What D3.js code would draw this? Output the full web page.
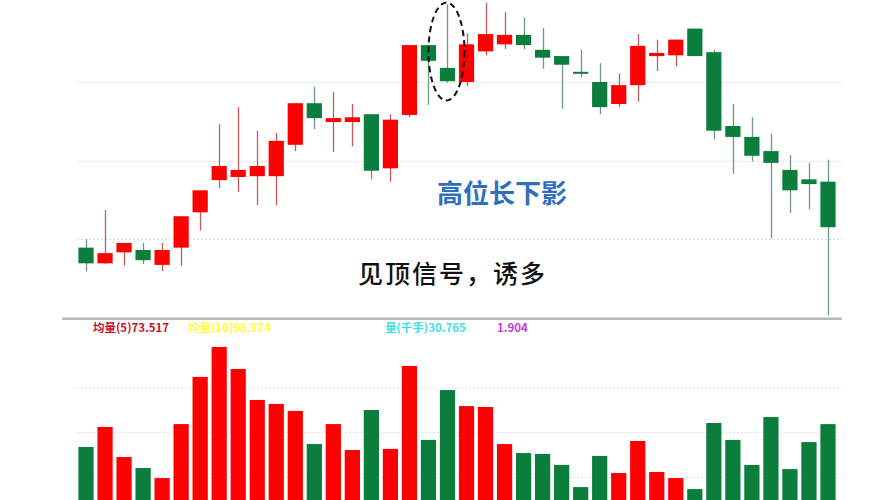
<!DOCTYPE html>
<html><head><meta charset="utf-8">
<script src="https://cdn.jsdelivr.net/npm/d3@7/dist/d3.min.js"></script>
<style>html,body{margin:0;padding:0;background:#fff;}svg{display:block;}</style>
</head><body>
<svg id="chart" width="891" height="500"></svg>
<script>
// ---- data ----
const days = d3.range(1, 41);
const opens  = [9.89,9.69,9.83,9.86,9.67,9.89,10.34,10.75,10.79,10.80,10.80,11.20,11.73,11.49,11.49,11.59,10.90,11.58,12.47,12.18,12.00,12.39,12.48,12.60,12.41,12.33,12.13,12.00,11.72,11.96,12.33,12.34,12.68,12.38,11.44,11.30,11.12,10.88,10.76,10.73];
const closes = [9.69,9.82,9.95,9.73,9.86,10.29,10.62,10.93,10.88,10.93,11.25,11.73,11.54,11.54,11.55,10.87,11.52,12.47,12.27,12.01,12.48,12.61,12.60,12.47,12.31,12.22,12.11,11.68,11.96,12.46,12.37,12.54,12.33,11.38,11.30,11.06,10.97,10.62,10.70,10.15];
const highs  = [10.00,10.37,9.95,9.95,9.95,10.29,10.62,11.46,11.68,11.38,11.35,11.73,11.94,11.87,11.72,11.59,11.59,12.47,12.47,12.99,12.62,13.01,12.89,12.82,12.69,12.33,12.41,12.24,12.11,12.61,12.54,12.54,12.68,12.41,11.72,11.55,11.34,11.07,10.97,11.01];
const lows   = [9.59,9.68,9.66,9.68,9.59,9.66,10.11,10.65,10.60,10.43,10.43,11.12,11.40,11.11,11.18,10.76,10.73,11.55,11.71,11.99,11.95,12.34,12.42,12.42,12.17,11.66,12.06,11.59,11.68,11.75,12.14,12.20,12.33,11.27,10.83,10.99,10.01,10.33,10.38,9.03];
// volume in 千手 (arbitrary units)
const volumes = [41.7,52.8,36.1,30.0,24.4,54.4,80.6,97.2,85.0,67.8,65.6,61.7,43.3,54.4,40.0,62.2,40.6,86.7,45.6,73.3,64.4,63.9,43.3,38.3,37.8,31.7,19.4,36.7,27.2,45.0,27.8,24.4,18.3,55.0,45.6,31.7,58.3,29.4,44.4,54.4];
const priceGrid = [10, 11, 12];
const volGrid = [25, 50, 75];
const legendItems = [
  {text: "均量(5)73.517", color: "#c8102e", x: 93},
  {text: "均量(10)98.974", color: "#ffff3a", x: 188},
  {text: "量(千手)30.765", color: "#3fe0e6", x: 385},
  {text: "1.904", color: "#c13bd6", x: 497}
];
const title1 = "高位长下影";
const title2 = "见顶信号，诱多";
const markedDay = 20;

// ---- layout ----
const svg = d3.select("#chart");
const RED = "#ff0000", GREEN = "#0b7e3e";
const RED_WICK = "#c85a5a", GREEN_WICK = "#6f9682";

const x = d3.scaleBand().domain(days).range([76.5, 837.5]).paddingInner(0.2).paddingOuter(0.1);
const y = d3.scaleLinear().domain([9, 13]).range([317.5, 3.5]);
const yv = d3.scaleLinear().domain([0, 100]).range([522, 342]);

const data = days.map((d, i) => ({d, o: opens[i], c: closes[i], h: highs[i], l: lows[i], v: volumes[i], up: closes[i] >= opens[i]}));

// grid lines
svg.append("g").selectAll("line").data(priceGrid).join("line")
  .attr("x1", 77).attr("x2", 842)
  .attr("y1", d => Math.round(y(d)) + 0.5).attr("y2", d => Math.round(y(d)) + 0.5)
  .attr("stroke", "#dedede").attr("stroke-dasharray", "2,2").attr("stroke-width", 1);

svg.append("g").selectAll("line").data(volGrid).join("line")
  .attr("x1", 77).attr("x2", 842)
  .attr("y1", d => Math.round(yv(d)) + 0.5).attr("y2", d => Math.round(yv(d)) + 0.5)
  .attr("stroke", "#e2e2e2").attr("stroke-dasharray", "2,2").attr("stroke-width", 1);

// candles
const cg = svg.append("g");
cg.selectAll("line.wick").data(data).join("line")
  .attr("class", "wick")
  .attr("x1", d => Math.round(x(d.d) + x.bandwidth() / 2) + 0.5)
  .attr("x2", d => Math.round(x(d.d) + x.bandwidth() / 2) + 0.5)
  .attr("y1", d => y(d.h)).attr("y2", d => y(d.l))
  .attr("stroke", d => d.up ? RED_WICK : GREEN_WICK).attr("stroke-width", 1.3);

cg.selectAll("rect.body").data(data).join("rect")
  .attr("class", "body")
  .attr("x", d => x(d.d)).attr("width", x.bandwidth())
  .attr("y", d => y(Math.max(d.o, d.c)))
  .attr("height", d => Math.max(2, Math.abs(y(d.o) - y(d.c))))
  .attr("fill", d => d.up ? RED : GREEN);

// separator
svg.append("rect").attr("x", 62).attr("y", 317.5).attr("width", 780).attr("height", 2.5).attr("fill", "#b9b9b9");

// volume bars
svg.append("g").selectAll("rect").data(data).join("rect")
  .attr("x", d => x(d.d)).attr("width", x.bandwidth())
  .attr("y", d => yv(d.v)).attr("height", d => 500 - yv(d.v) + 2)
  .attr("fill", d => d.up ? RED : GREEN);

// legend
svg.append("g").selectAll("text").data(legendItems).join("text")
  .attr("x", d => d.x).attr("y", 332)
  .attr("fill", d => d.color)
  .attr("font-family", "'Noto Sans CJK SC', 'DejaVu Sans', sans-serif")
  .attr("font-size", 11.5).attr("font-weight", 700)
  .text(d => d.text);

// ellipse marking
const md = data[markedDay - 1];
svg.append("ellipse")
  .attr("cx", x(md.d) + x.bandwidth() / 2 - 1)
  .attr("cy", (y(md.h) + y(md.l)) / 2 + 8)
  .attr("rx", 18).attr("ry", 49)
  .attr("fill", "none").attr("stroke", "#111").attr("stroke-width", 2)
  .attr("stroke-dasharray", "6,4");

// annotations
svg.append("text").attr("x", 437).attr("y", 203)
  .attr("font-family", "'Noto Sans CJK SC', sans-serif").attr("font-weight", 700)
  .attr("font-size", 26).attr("fill", "#2f6fbe").text(title1);
svg.append("text").attr("x", 358).attr("y", 283)
  .attr("font-family", "'Noto Sans CJK SC', sans-serif").attr("font-weight", 500)
  .attr("font-size", 25).attr("fill", "#111").attr("textLength", 187).text(title2);
</script>
</body></html>
